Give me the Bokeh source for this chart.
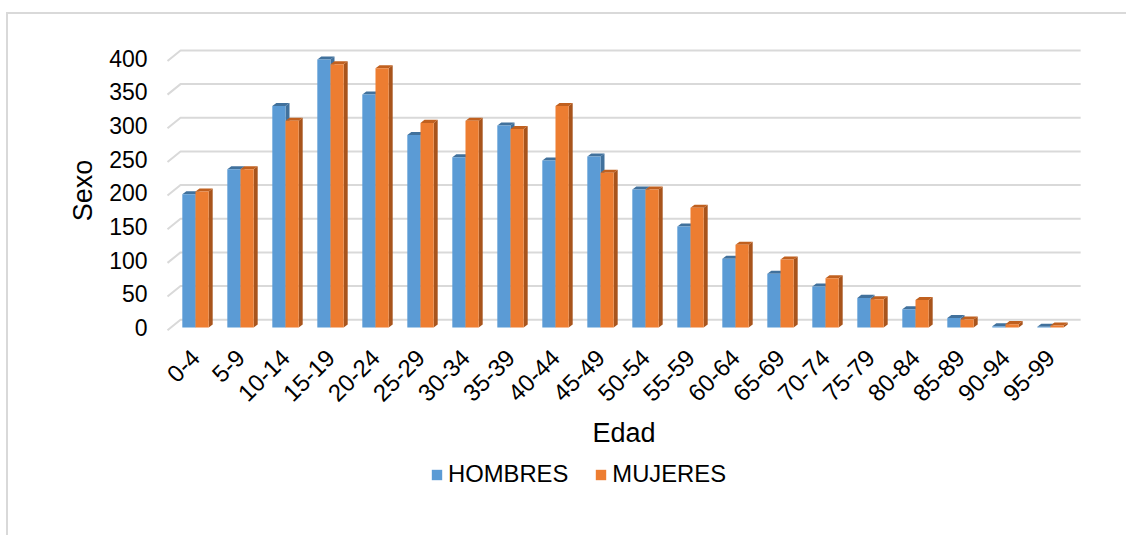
import math
from bokeh.plotting import figure
from bokeh.layouts import column
from bokeh.models import Range1d, FixedTicker, Legend, LegendItem
from bokeh.embed import file_html
from bokeh.resources import INLINE

# ---------------- data ----------------
age_groups = ["0-4", "5-9", "10-14", "15-19", "20-24", "25-29", "30-34", "35-39",
              "40-44", "45-49", "50-54", "55-59", "60-64", "65-69", "70-74", "75-79",
              "80-84", "85-89", "90-94", "95-99"]
hombres = [198, 235, 329, 398, 346, 286, 253, 300, 248, 254, 205, 150, 102, 80, 61, 44, 27, 14, 2, 1]
mujeres = [202, 235, 307, 391, 385, 304, 307, 295, 329, 230, 205, 178, 123, 101, 73, 42, 41, 12, 5, 3]
y_ticks = [0, 50, 100, 150, 200, 250, 300, 350, 400]
series_names = ["HOMBRES", "MUJERES"]

# ---------------- style ----------------
FONT = "Liberation Sans"
BW = 0.293          # bar width (category units)
DX, DY = 0.089, 4.5  # bar depth offset (x units, y units)
GF_X, GF_Y = -0.122, -4.0   # grid front-plane offset
GB_X, GB_Y = 0.167, 11.6    # grid back-plane offset
X_END = 20.17
colors = [
    dict(front="#5B9BD5", top="#41719C", side="#41719C"),
    dict(front="#ED7D31", top="#C0601F", side="#A8541C"),
]

p = figure(frame_width=917, frame_height=300,
           x_range=Range1d(-0.1667, 20.2111), y_range=Range1d(-19.3, 426.4),
           output_backend="svg", toolbar_location=None,
           min_border_left=157, min_border_right=44, min_border_top=26, min_border_bottom=120)
p.outline_line_color = None
p.xgrid.visible = False
p.ygrid.visible = False
p.background_fill_color = "white"
p.border_fill_color = "white"

# gridlines on back wall with slanted left side
gx = [[GF_X, GB_X, X_END] for t in y_ticks]
gy = [[t + GF_Y, t + GB_Y, t + GB_Y] for t in y_ticks]
p.multi_line(gx, gy, line_color="#d9d9d9", line_width=2)

for k, vals in enumerate([hombres, mujeres]):
    c = colors[k]
    x0 = [i + 0.5 - BW + k * BW for i in range(len(vals))]
    x1 = [a + BW for a in x0]
    side_xs = [[b, b + DX, b + DX, b] for b in x1]
    side_ys = [[0, DY, v + DY, v] for v in vals]
    top_xs = [[a, b, b + DX, a + DX] for a, b in zip(x0, x1)]
    top_ys = [[v, v, v + DY, v + DY] for v in vals]
    p.patches(side_xs, side_ys, fill_color=c["side"], line_color=None)
    p.patches(top_xs, top_ys, fill_color=c["top"], line_color=None)
    p.quad(left=x0, right=x1, bottom=0, top=vals, fill_color=c["front"], line_color=None)

# axes
p.xaxis.ticker = FixedTicker(ticks=[i + 0.5 for i in range(len(age_groups))])
p.xaxis.major_label_overrides = {i + 0.5: lab for i, lab in enumerate(age_groups)}
p.xaxis.major_label_orientation = math.pi / 4
p.yaxis.ticker = FixedTicker(ticks=y_ticks)
for ax in (p.xaxis[0], p.yaxis[0]):
    ax.axis_line_color = None
    ax.major_tick_line_color = None
    ax.minor_tick_line_color = None
    ax.major_tick_out = 0
    ax.major_tick_in = 0
    ax.major_label_text_font = FONT
    ax.major_label_text_font_size = "23px"
    ax.major_label_text_color = "#000000"
    ax.axis_label_text_font = FONT
    ax.axis_label_text_font_size = "27px"
    ax.axis_label_text_font_style = "normal"
    ax.axis_label_text_color = "#000000"
p.xaxis.major_label_text_font_size = "24px"
p.xaxis.axis_label = "Edad"
p.yaxis.axis_label = "Sexo"
p.yaxis.major_label_standoff = 18
p.xaxis.major_label_standoff = 13
p.xaxis.axis_label_standoff = 6
p.yaxis.axis_label_standoff = 8

# ---------------- legend strip ----------------
pl = figure(width=1118, height=75, x_range=Range1d(0, 1), y_range=Range1d(0, 1),
            output_backend="svg", toolbar_location=None,
            x_axis_type=None, y_axis_type=None,
            min_border_left=0, min_border_right=0, min_border_top=0, min_border_bottom=0)
pl.outline_line_color = None
pl.background_fill_color = "white"
pl.border_fill_color = "white"
# legend proxies (kept outside the strip's visible range)
lr = [pl.quad(left=[2], right=[3], bottom=[2], top=[3], fill_color=c["front"], line_color=None)
      for c in colors]
legend = Legend(items=[LegendItem(label=series_names[0], renderers=[lr[0]]),
                       LegendItem(label=series_names[1], renderers=[lr[1]])],
                orientation="horizontal", location=(265, 47),
                glyph_width=13, glyph_height=13, label_standoff=5, spacing=26,
                padding=0, margin=0, border_line_color=None,
                background_fill_alpha=0,
                label_text_font=FONT, label_text_font_size="23.8px", label_text_color="#000000")
pl.add_layout(legend, "center")

layout = column(p, pl, spacing=0)
layout.styles = {"margin-top": "12px", "margin-left": "6px",
                 "border-top": "2px solid #d9d9d9", "border-left": "2px solid #d9d9d9",
                 "border-right": "none", "border-bottom": "none"}

open("out.html", "w").write(file_html(layout, INLINE))
